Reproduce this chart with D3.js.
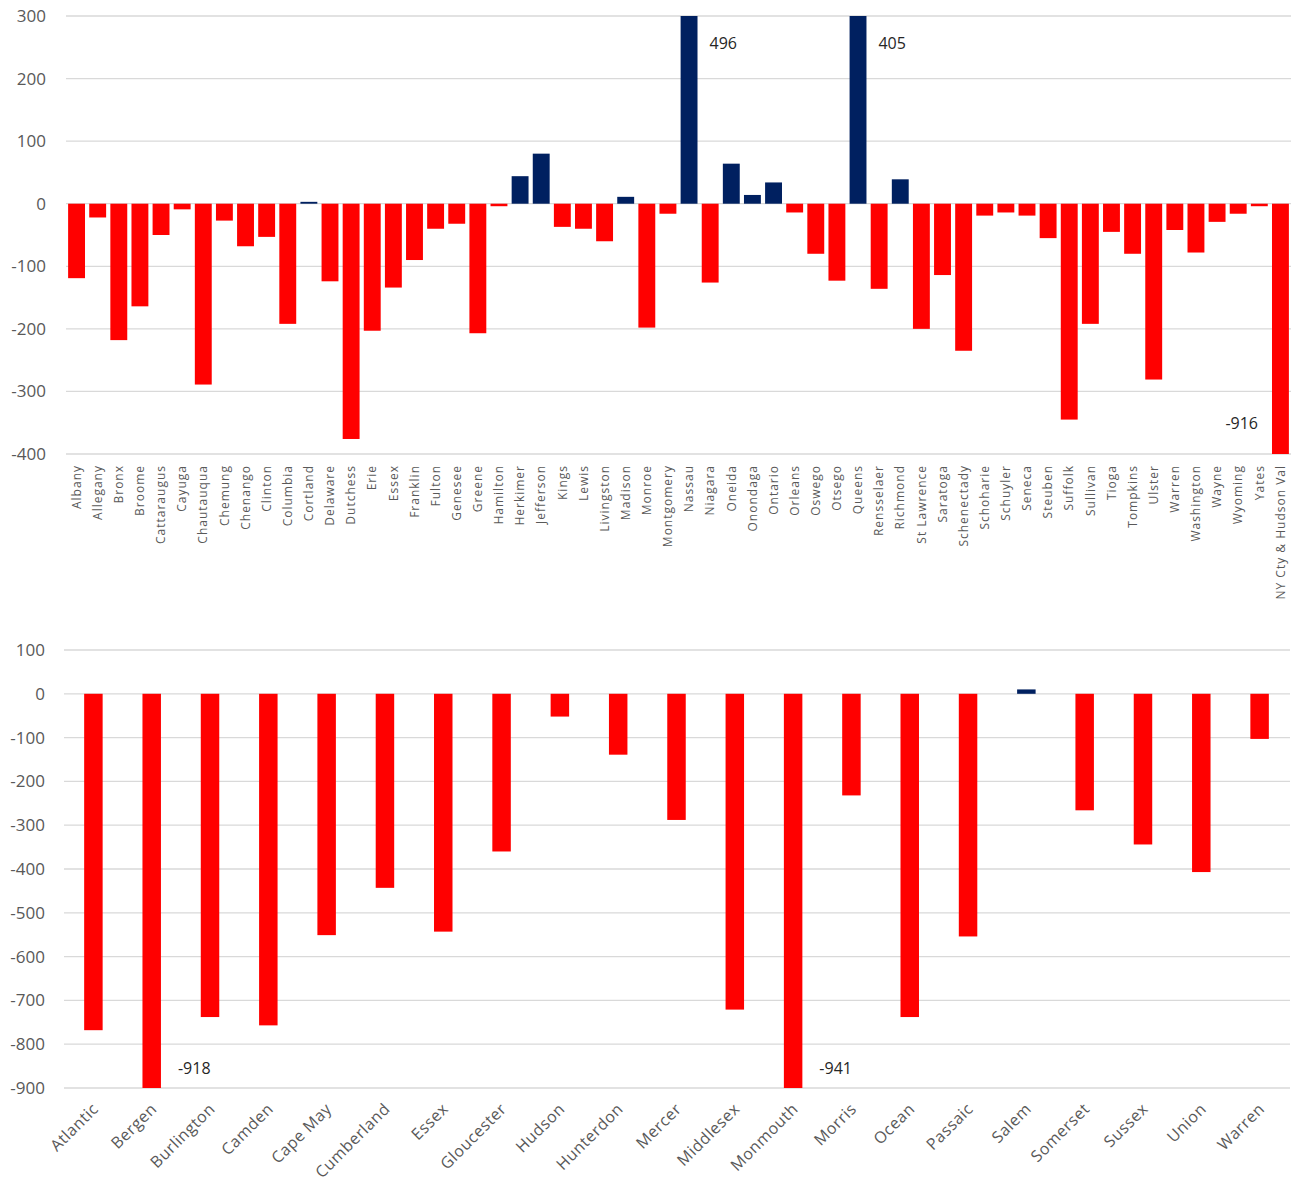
<!DOCTYPE html>
<html>
<head>
<meta charset="utf-8">
<script src="https://cdn.jsdelivr.net/npm/d3@7"></script>
<style>
  body { margin:0; background:#fff; }
  svg text { font-family: "Open Sans", "DejaVu Sans", sans-serif; }
</style>
</head>
<body>
<div id="chart"></div>
<script>
// New York counties
const nyCounties = ["Albany","Allegany","Bronx","Broome","Cattaraugus","Cayuga","Chautauqua","Chemung","Chenango","Clinton",
  "Columbia","Cortland","Delaware","Dutchess","Erie","Essex","Franklin","Fulton","Genesee","Greene",
  "Hamilton","Herkimer","Jefferson","Kings","Lewis","Livingston","Madison","Monroe","Montgomery","Nassau",
  "Niagara","Oneida","Onondaga","Ontario","Orleans","Oswego","Otsego","Queens","Rensselaer","Richmond",
  "St Lawrence","Saratoga","Schenectady","Schoharie","Schuyler","Seneca","Steuben","Suffolk","Sullivan","Tioga",
  "Tompkins","Ulster","Warren","Washington","Wayne","Wyoming","Yates","NY Cty & Hudson Val"];
const nyValues = [-119,-22,-218,-164,-50,-9,-289,-27,-68,-53,
  -192,3,-124,-376,-203,-134,-90,-40,-32,-207,
  -4,44,80,-37,-40,-60,11,-198,-16,496,
  -126,64,14,34,-14,-80,-123,405,-136,39,
  -200,-114,-235,-19,-14,-19,-55,-345,-192,-45,
  -80,-281,-42,-78,-29,-16,-4,-916];
const nyTicks = [300,200,100,0,-100,-200,-300,-400];
const nyLabelled = ["Nassau","Queens","NY Cty & Hudson Val"];

// New Jersey counties
const njCounties = ["Atlantic","Bergen","Burlington","Camden","Cape May","Cumberland","Essex","Gloucester","Hudson","Hunterdon",
  "Mercer","Middlesex","Monmouth","Morris","Ocean","Passaic","Salem","Somerset","Sussex","Union","Warren"];
const njValues = [-768,-918,-738,-757,-551,-443,-543,-360,-52,-139,
  -288,-721,-941,-232,-738,-554,10,-266,-344,-407,-103];
const njTicks = [100,0,-100,-200,-300,-400,-500,-600,-700,-800,-900];
const njLabelled = ["Bergen","Monmouth"];

const RED = "#ff0000", NAVY = "#002060", GRID = "#d9d9d9", TICK = "#595959";

const svg = d3.select("#chart").append("svg").attr("width",1294).attr("height",1188);

// ---- top chart (NY)
(function(){
  const left = 66, right = 1291;
  const x = d3.scaleBand().domain(nyCounties).range([left,right]).paddingInner(0.2).paddingOuter(0.1);
  const y = d3.scaleLinear().domain([-400,300]).range([454,16]);
  const g = svg.append("g");

  g.selectAll("line.grid").data(nyTicks).join("line").attr("class","grid")
    .attr("x1",left).attr("x2",right).attr("y1",d=>y(d)).attr("y2",d=>y(d))
    .attr("stroke",GRID).attr("stroke-width",1.3);
  g.selectAll("text.yt").data(nyTicks).join("text").attr("class","yt")
    .attr("x",46).attr("y",d=>y(d)).attr("dy","0.35em").attr("text-anchor","end")
    .attr("fill",TICK).style("font-size","17px").text(d=>d);

  const data = nyCounties.map((c,i)=>({c, v:nyValues[i]}));
  g.selectAll("rect").data(data).join("rect")
    .attr("x",d=>x(d.c)).attr("width",x.bandwidth())
    .attr("y",d=>y(Math.min(300,Math.max(0,d.v))))
    .attr("height",d=>Math.abs(y(Math.max(-400,Math.min(300,d.v))) - y(0)))
    .attr("fill",d=>d.v>=0?NAVY:RED);

  g.selectAll("text.xl").data(nyCounties).join("text").attr("class","xl")
    .attr("transform",d=>`translate(${x(d)+x.bandwidth()/2},${y(-400)+11}) rotate(-90)`)
    .attr("dy","0.35em").attr("text-anchor","end").attr("fill",TICK)
    .style("font-size","12px").style("letter-spacing","1px").text(d=>d);

  // labels for clipped bars
  data.filter(d=>nyLabelled.includes(d.c)).forEach(d=>{
    const pos = d.v>0;
    g.append("text")
      .attr("x", pos ? x(d.c)+x.bandwidth()+12 : x(d.c)-14)
      .attr("y", pos ? y(300)+27 : y(-400)-31)
      .attr("dy","0.35em").attr("text-anchor",pos?"start":"end")
      .attr("fill","#262626").style("font-size","16px").text(d.v);
  });
})();

// ---- bottom chart (NJ)
(function(){
  const gl = 64, gr = 1290;
  const x = d3.scaleBand().domain(njCounties).range([55,1298]).paddingInner(0.683).paddingOuter(0.5);
  const y = d3.scaleLinear().domain([-900,100]).range([1088,650]);
  const g = svg.append("g");

  g.selectAll("line.grid").data(njTicks).join("line").attr("class","grid")
    .attr("x1",gl).attr("x2",gr).attr("y1",d=>y(d)).attr("y2",d=>y(d))
    .attr("stroke",GRID).attr("stroke-width",1.3);
  g.selectAll("text.yt").data(njTicks).join("text").attr("class","yt")
    .attr("x",45).attr("y",d=>y(d)).attr("dy","0.35em").attr("text-anchor","end")
    .attr("fill",TICK).style("font-size","17px").text(d=>d);

  const data = njCounties.map((c,i)=>({c, v:njValues[i]}));
  g.selectAll("rect").data(data).join("rect")
    .attr("x",d=>x(d.c)).attr("width",x.bandwidth())
    .attr("y",d=>y(Math.max(0,d.v)))
    .attr("height",d=>Math.abs(y(Math.max(-900,d.v)) - y(0)))
    .attr("fill",d=>d.v>=0?NAVY:RED);

  g.selectAll("text.xl").data(njCounties).join("text").attr("class","xl")
    .attr("transform",d=>`translate(${x(d)+x.bandwidth()/2+2},${y(-900)+18}) rotate(-45)`)
    .attr("dy","0.35em").attr("text-anchor","end").attr("fill",TICK)
    .style("font-size","16px").style("letter-spacing","0.5px").text(d=>d);

  data.filter(d=>njLabelled.includes(d.c)).forEach(d=>{
    g.append("text")
      .attr("x", x(d.c)+x.bandwidth()+17)
      .attr("y", y(-900)-20)
      .attr("dy","0.35em").attr("fill","#262626").style("font-size","16px").text(d.v);
  });
})();
</script>
</body>
</html>
